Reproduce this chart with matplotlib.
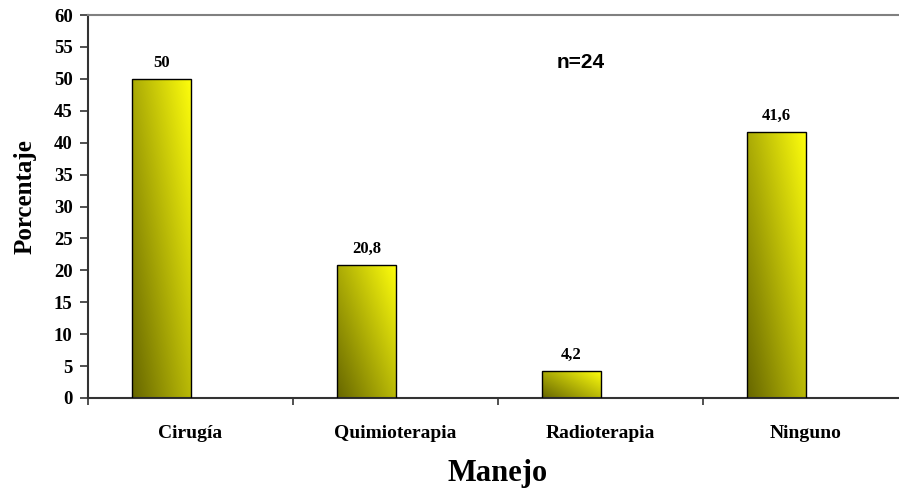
import numpy as np
import matplotlib
matplotlib.use("Agg")
import matplotlib.pyplot as plt

categories = ["Cirugía", "Quimioterapia", "Radioterapia", "Ninguno"]
values = [50, 20.8, 4.2, 41.6]
value_labels = ["50", "20,8", "4,2", "41,6"]
yticks = list(range(0, 61, 5))

serif = ["Liberation Serif", "DejaVu Serif"]
sans = ["Liberation Sans", "DejaVu Sans"]

fig = plt.figure(figsize=(8.99, 4.97), dpi=100)
ax = fig.add_axes([88/899, 1-398/497, 820/899, 383/497])

x = np.arange(len(categories))
offset = -0.141
width = 0.288
bars = ax.bar(x + offset, values, width=width, facecolor="none",
              edgecolor="black", linewidth=1.0, zorder=3)

# diagonal gradient fill
n = 200
gx, gy = np.meshgrid(np.linspace(0, 1, n), np.linspace(0, 1, n))
t = 0.55 * gx + 0.45 * gy
dark = np.array([0.40, 0.40, 0.0])
bright = np.array([1.0, 1.0, 0.05])
img = dark[None, None, :] + t[..., None] * (bright - dark)[None, None, :]
for b in bars:
    x0, y0 = b.get_x(), b.get_y()
    w, h = b.get_width(), b.get_height()
    im = ax.imshow(img, extent=[x0, x0 + w, y0, y0 + h], origin="lower",
                   aspect="auto", zorder=2, interpolation="bilinear")
    im.set_clip_path(b)

for b, lab in zip(bars, value_labels):
    ax.annotate(lab, (b.get_x() + b.get_width()/2, b.get_height()),
                xytext=(0, 6), textcoords="offset points", ha="center",
                va="bottom", fontsize=12, fontweight="bold", family=serif)

ax.set_xlim(-0.5, 3.5)
ax.set_ylim(0, 60)
ax.set_yticks(yticks)
ax.set_yticklabels([str(v) for v in yticks], fontsize=13.5, fontweight="bold",
                   family=serif)
ax.set_xticks(x)
ax.set_xticklabels(categories, fontsize=14, fontweight="bold", family=serif)
ax.set_xticks(np.arange(-0.5, 3.6, 1), minor=True)
ax.tick_params(axis="x", which="major", length=0, pad=19.5)
ax.tick_params(axis="x", which="minor", length=5, width=1.2, direction="out",
               color="#333333")
ax.tick_params(axis="y", length=6, width=1.2, direction="out", pad=5,
               color="#333333")

ax.spines["right"].set_visible(False)
ax.spines["top"].set_color("#808080")
ax.spines["top"].set_linewidth(1.5)
for s in ["left", "bottom"]:
    ax.spines[s].set_color("#333333")
    ax.spines[s].set_linewidth(1.5)

ax.text(1.905, 52.6, "n=24", ha="center", va="center", fontsize=15,
        fontweight="bold", family=sans)

fig.text(25/899, 1-197/497, "Porcentaje", rotation=90, ha="center",
         va="center", fontsize=18, fontweight="bold", family=serif)
fig.text(498/899, 1-474/497, "Manejo", ha="center", va="center",
         fontsize=22, fontweight="bold", family=serif)

fig.savefig("out.png", dpi=100)
